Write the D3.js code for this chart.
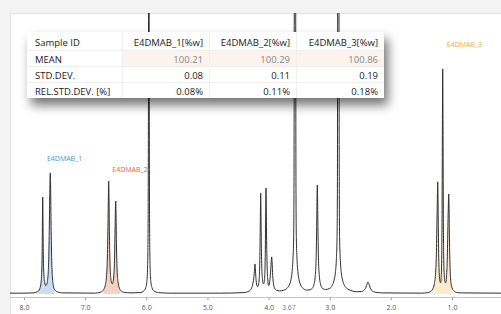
<!DOCTYPE html>
<html>
<head>
<meta charset="utf-8">
<script src="https://cdn.jsdelivr.net/npm/d3@7"></script>
<style>
  body { margin: 0; background: #f3f3f3; }
  svg { display: block; font-family: 'Open Sans', sans-serif; }
</style>
</head>
<body>
<svg id="chart" width="501" height="314"></svg>
<script>
// spectrum trace, [ppm, intensity] with intensity 100 = top of panel
const spectrum = [
  [8.25, 0.3], [8.0, 0.3], [7.85, 0.4], [7.78, 0.8], [7.745, 1.8], [7.725, 3.5], [7.712, 7], [7.703, 15],
  [7.698, 27], [7.694, 34.5], [7.690, 27], [7.684, 14], [7.673, 6.5], [7.66, 4], [7.645, 3], [7.632, 3.2],
  [7.618, 4.5], [7.603, 8], [7.592, 16], [7.582, 30], [7.574, 41], [7.570, 43.1], [7.566, 40], [7.558, 26],
  [7.548, 13], [7.535, 6], [7.52, 3], [7.50, 1.6], [7.46, 0.8], [7.38, 0.4],
  [6.85, 0.3], [6.74, 0.7], [6.70, 1.5], [6.672, 3], [6.652, 6], [6.638, 12], [6.627, 24], [6.619, 36],
  [6.615, 40.2], [6.611, 36], [6.603, 21], [6.592, 10], [6.58, 5.5], [6.565, 3.8], [6.555, 3.6], [6.542, 4.5],
  [6.53, 7], [6.519, 13], [6.51, 24], [6.504, 31], [6.500, 33.1], [6.496, 30], [6.488, 18], [6.477, 8.5],
  [6.463, 4.5], [6.445, 2.4], [6.42, 1.3], [6.37, 0.6], [6.25, 0.4],
  [6.10, 0.5], [6.04, 1.1], [6.01, 2.2], [5.99, 4.5], [5.978, 10], [5.97, 25], [5.966, 55], [5.962, 120],
  [5.958, 200], [5.954, 120], [5.95, 55], [5.946, 25], [5.938, 10], [5.926, 4.5], [5.906, 2.2], [5.876, 1.1],
  [5.80, 0.5], [5.6, 0.3],
  [4.8, 0.3], [4.40, 0.5], [4.32, 1], [4.28, 2], [4.255, 3.8], [4.238, 6.5], [4.228, 9.5], [4.222, 10.7],
  [4.216, 9], [4.206, 5.5], [4.193, 3.2], [4.18, 2.6], [4.168, 3], [4.155, 5], [4.145, 10], [4.137, 22],
  [4.132, 32], [4.129, 35.9], [4.126, 32], [4.12, 20], [4.11, 9], [4.098, 5], [4.085, 3.6], [4.075, 3.8],
  [4.064, 6], [4.055, 13], [4.048, 27], [4.044, 35], [4.042, 37.7], [4.039, 34], [4.033, 21], [4.024, 10],
  [4.013, 5], [4.0, 3], [3.99, 3.2], [3.978, 5], [3.965, 8.5], [3.955, 12], [3.949, 13.2], [3.943, 11.5],
  [3.932, 6.5], [3.918, 3.4], [3.90, 2], [3.87, 1.3], [3.82, 1.1],
  [3.76, 1.3], [3.70, 2], [3.66, 3.2], [3.635, 5], [3.615, 8], [3.60, 13], [3.59, 20], [3.584, 40],
  [3.580, 100], [3.575, 200], [3.568, 300], [3.561, 200], [3.556, 100], [3.552, 40], [3.546, 20], [3.536, 13],
  [3.521, 8], [3.501, 5], [3.476, 3.2], [3.436, 2], [3.38, 1.4], [3.32, 1.5],
  [3.28, 2.2], [3.255, 3.6], [3.236, 6.5], [3.223, 12], [3.213, 24], [3.207, 35], [3.203, 38.8], [3.199, 35],
  [3.193, 24], [3.183, 12], [3.17, 6.5], [3.151, 3.6], [3.126, 2.2], [3.07, 1.6],
  [3.0, 2], [2.96, 3], [2.93, 4.8], [2.908, 7.5], [2.892, 12], [2.880, 20], [2.874, 40], [2.870, 100],
  [2.865, 200], [2.859, 300], [2.853, 200], [2.848, 100], [2.844, 40], [2.838, 20], [2.826, 12], [2.81, 7.5],
  [2.788, 4.8], [2.758, 3], [2.718, 2], [2.65, 1.2], [2.56, 0.8],
  [2.48, 0.9], [2.43, 1.5], [2.405, 2.5], [2.388, 3.6], [2.374, 4.3], [2.36, 3.6], [2.343, 2.5], [2.318, 1.4],
  [2.27, 0.7], [2.15, 0.4],
  [1.50, 0.3], [1.40, 0.5], [1.35, 0.9], [1.315, 1.8], [1.29, 3.5], [1.27, 7], [1.256, 14], [1.246, 26],
  [1.238, 36], [1.234, 39.9], [1.230, 36], [1.222, 20], [1.211, 8.5], [1.198, 4.5], [1.186, 4], [1.176, 6.5],
  [1.168, 14], [1.162, 30], [1.157, 60], [1.154, 75], [1.152, 80.1], [1.150, 75], [1.147, 60], [1.142, 30],
  [1.136, 14], [1.126, 6.5], [1.115, 4.2], [1.103, 4], [1.091, 6], [1.078, 12], [1.067, 24], [1.059, 32],
  [1.054, 35.6], [1.050, 33], [1.042, 20], [1.031, 9], [1.018, 4.2], [1.0, 2.2], [0.975, 1.2], [0.93, 0.6],
  [0.85, 0.4], [0.20, 0.3]
]

const xTicks = [8.0, 7.0, 6.0, 5.0, 4.0, 3.0, 2.0, 1.0]
const cursorPpm = 3.67

const regionNames = ['E4DMAB_1', 'E4DMAB_2', 'E4DMAB_3']
const regionRanges = [[7.78, 7.47], [6.70, 6.41], [1.32, 0.98]]

const tableHeader = ['Sample ID', 'E4DMAB_1[%w]', 'E4DMAB_2[%w]', 'E4DMAB_3[%w]']
const rowLabels = ['MEAN', 'STD.DEV.', 'REL.STD.DEV. [%]']
const meanValues = [100.21, 100.29, 100.86]
const stdDevValues = [0.08, 0.11, 0.19]
const relStdDevValues = [0.08, 0.11, 0.18]

/** Class drawing the NMR spectrum with integration regions and a results table. */
class SpectrumChart {

  width = 501
  height = 314

  panelLeft = 10
  panelTop = 13
  baseline = 294
  axisY = 297

  lineColor = '#2e2e2e'
  regionFills = ['#c9def2', '#f6d2c4', '#fbecce']
  regionInk = ['#4a8fd6', '#e4623e', '#f0a83c']
  // label baseline in intensity units, nudge in px
  labelLift = [47.3, 43.4, 87.9]
  labelNudge = [0, 0, 4]

  tableLeft = 27
  tableTop = 32
  colWidths = [95, 87, 87, 88]
  rowHeights = [18, 16, 16, 16]

  constructor() {
    this.svg = d3.select('#chart')

    this.xScale = d3.scaleLinear()
      .domain([8, 1])
      .range([24, 452])

    this.yScale = d3.scaleLinear()
      .domain([0, 100])
      .range([this.baseline, this.panelTop])

    this.drawPanel()
    this.drawAxis()
    this.drawSpectrum()
    this.drawTable()
  }

  drawPanel() {
    const defs = this.svg.append('defs')

    defs.append('clipPath')
      .attr('id', 'plot-clip')
      .append('rect')
      .attr('x', this.panelLeft)
      .attr('y', this.panelTop)
      .attr('width', this.width - this.panelLeft)
      .attr('height', this.axisY - this.panelTop)

    const shadow = defs.append('filter')
      .attr('id', 'table-shadow')
      .attr('x', '-20%').attr('y', '-30%')
      .attr('width', '140%').attr('height', '190%')
    shadow.append('feDropShadow')
      .attr('dx', 4).attr('dy', 7)
      .attr('stdDeviation', 5.5)
      .attr('flood-color', '#000')
      .attr('flood-opacity', 0.55)

    this.svg.append('rect')
      .attr('x', this.panelLeft + 0.5)
      .attr('y', this.panelTop + 0.5)
      .attr('width', this.width - this.panelLeft)
      .attr('height', this.height - this.panelTop)
      .attr('fill', '#fff')
      .attr('stroke', '#e3e3e3')
  }

  drawAxis() {
    const axis = d3.axisBottom(this.xScale)
      .tickValues(xTicks)
      .tickFormat(d3.format('.1f'))
      .tickSize(3)
      .tickPadding(5)

    const g = this.svg.append('g')
      .attr('transform', `translate(0, ${this.axisY})`)
      .call(axis)

    g.select('.domain').remove()
    g.selectAll('.tick line').attr('stroke', '#999')
    g.selectAll('.tick text')
      .attr('fill', '#555')
      .attr('font-size', 7)
      .attr('font-family', "'Open Sans', sans-serif")

    g.append('line')
      .attr('x1', this.panelLeft)
      .attr('x2', this.width)
      .attr('y1', 0.5)
      .attr('y2', 0.5)
      .attr('stroke', '#c4c4c4')

    g.append('text')
      .attr('x', this.xScale(cursorPpm))
      .attr('y', 8)
      .attr('dy', '0.71em')
      .attr('text-anchor', 'middle')
      .attr('fill', '#4a8fd6')
      .attr('font-size', 7)
      .text(d3.format('.2f')(cursorPpm))
  }

  drawSpectrum() {
    const plot = this.svg.append('g')
      .attr('clip-path', 'url(#plot-clip)')

    const area = d3.area()
      .x(d => this.xScale(d[0]))
      .y0(this.yScale(0))
      .y1(d => this.yScale(d[1]))
      .curve(d3.curveMonotoneX)

    regionRanges.forEach(([hi, lo], i) => {
      plot.append('path')
        .datum(spectrum.filter(d => d[0] <= hi && d[0] >= lo))
        .attr('fill', this.regionFills[i])
        .attr('d', area)
    })

    const line = d3.line()
      .x(d => this.xScale(d[0]))
      .y(d => this.yScale(d[1]))
      .curve(d3.curveMonotoneX)

    plot.append('path')
      .datum(spectrum)
      .attr('fill', 'none')
      .attr('stroke', this.lineColor)
      .attr('stroke-width', 1)
      .attr('stroke-linejoin', 'round')
      .attr('d', line)

    plot.selectAll('.region-label')
      .data(regionNames)
      .join('text')
      .attr('class', 'region-label')
      .attr('x', (d, i) => this.xScale(d3.mean(regionRanges[i])) + this.labelNudge[i])
      .attr('y', (d, i) => this.yScale(this.labelLift[i]))
      .attr('fill', (d, i) => this.regionInk[i])
      .attr('font-size', 7)
      .text(d => d)
  }

  drawTable() {
    const rows = [
      [rowLabels[0], ...meanValues.map(d3.format('.2f'))],
      [rowLabels[1], ...stdDevValues.map(d3.format('.2f'))],
      [rowLabels[2], ...relStdDevValues.map(v => d3.format('.2f')(v) + '%')]
    ]

    const colX = d3.cumsum([this.tableLeft, ...this.colWidths])
    const rowY = d3.cumsum([this.tableTop, ...this.rowHeights])
    const tableWidth = d3.sum(this.colWidths)
    const tableHeight = d3.sum(this.rowHeights)

    const table = this.svg.append('g')

    table.append('rect')
      .attr('x', this.tableLeft)
      .attr('y', this.tableTop)
      .attr('width', tableWidth)
      .attr('height', tableHeight)
      .attr('fill', '#fff')
      .attr('filter', 'url(#table-shadow)')

    // mean row is highlighted
    table.append('rect')
      .attr('x', colX[1])
      .attr('y', rowY[1])
      .attr('width', tableWidth - this.colWidths[0])
      .attr('height', this.rowHeights[1])
      .attr('fill', '#fcf3ec')

    table.selectAll('.row-rule')
      .data(rowY.slice(1, -1))
      .join('line')
      .attr('class', 'row-rule')
      .attr('x1', this.tableLeft)
      .attr('x2', this.tableLeft + tableWidth)
      .attr('y1', d => d + 0.5)
      .attr('y2', d => d + 0.5)
      .attr('stroke', '#efefef')

    table.selectAll('.col-rule')
      .data(colX.slice(1, -1))
      .join('line')
      .attr('class', 'col-rule')
      .attr('x1', d => d + 0.5)
      .attr('x2', d => d + 0.5)
      .attr('y1', this.tableTop)
      .attr('y2', this.tableTop + tableHeight)
      .attr('stroke', '#efefef')

    const cellText = (sel, y, color) => {
      sel.attr('x', (d, i) => i === 0 ? colX[0] + 8 : colX[i + 1] - 6)
        .attr('y', y)
        .attr('text-anchor', (d, i) => i === 0 ? 'start' : 'end')
        .attr('font-size', 9.5)
        .attr('fill', (d, i) => color(i))
        .text(d => d)
    }

    table.append('g')
      .selectAll('text')
      .data(tableHeader)
      .join('text')
      .call(cellText, rowY[0] + 13.5, () => '#222')

    rows.forEach((row, r) => {
      table.append('g')
        .selectAll('text')
        .data(row)
        .join('text')
        .call(cellText, rowY[r + 1] + 12.5, i => (r === 0 && i > 0) ? '#888' : '#222')
    })
  }
}

new SpectrumChart()
</script>
</body>
</html>
